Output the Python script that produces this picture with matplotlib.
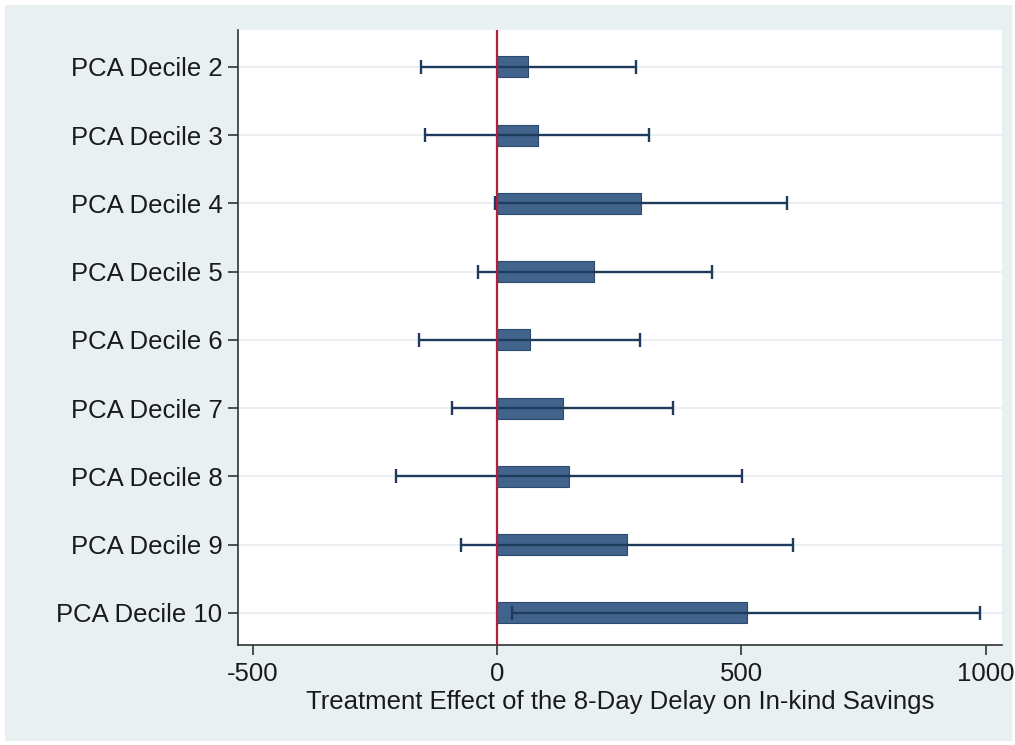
import matplotlib
matplotlib.use("Agg")
import matplotlib.pyplot as plt
from matplotlib.patches import Rectangle

categories = ["PCA Decile 2", "PCA Decile 3", "PCA Decile 4", "PCA Decile 5",
              "PCA Decile 6", "PCA Decile 7", "PCA Decile 8", "PCA Decile 9",
              "PCA Decile 10"]
effects = [64, 84, 294, 199, 67, 134, 147, 265, 511]
ci_low = [-155, -147, -4, -40, -160, -93, -207, -73, 31]
ci_high = [284, 311, 594, 439, 292, 359, 502, 605, 988]
x_ticks = [-500, 0, 500, 1000]
x_label = "Treatment Effect of the 8-Day Delay on In-kind Savings"

plt.rcParams['font.family'] = ['Liberation Sans', 'DejaVu Sans']

fig = plt.figure(figsize=(10.15, 7.45), dpi=100, facecolor='white')
bg = Rectangle((5 / 1015, 4 / 745), 1007 / 1015, 736 / 745,
               transform=fig.transFigure, facecolor='#e8f0f2',
               edgecolor='none', zorder=-10)
fig.patches.append(bg)

ax = fig.add_axes([238 / 1015, 1 - 645 / 745, (1002 - 238) / 1015, (645 - 30) / 745])
ax.set_facecolor('white')

ypos = list(range(len(categories)))
for y in ypos:
    ax.axhline(y, color='#e6edf0', lw=1.2, zorder=0)

ax.barh(ypos, effects, height=0.31, color='#42648c', edgecolor='#2c4a6e',
        linewidth=0.8, zorder=2)

xerr_lo = [e - l for e, l in zip(effects, ci_low)]
xerr_hi = [h - e for e, h in zip(effects, ci_high)]
ax.errorbar(effects, ypos, xerr=[xerr_lo, xerr_hi], fmt='none',
            ecolor='#1e3a5c', elinewidth=1.7, capsize=4.7, capthick=1.7,
            zorder=3)

ax.axvline(0, color='#b3203f', lw=1.6, zorder=4)

ax.set_xlim(-530, 1033)
ax.set_ylim(8.47, -0.54)
ax.set_yticks(ypos)
ax.set_yticklabels(categories, fontsize=18.5, color='#1a1a1a')
ax.set_xticks(x_ticks)
ax.set_xticklabels([str(t) for t in x_ticks], fontsize=18.5, color='#1a1a1a')
ax.set_xlabel(x_label, fontsize=18.5, color='#1a1a1a', labelpad=3)

for s in ['top', 'right']:
    ax.spines[s].set_visible(False)
for s in ['left', 'bottom']:
    ax.spines[s].set_color('#333333')
    ax.spines[s].set_linewidth(1.2)
ax.tick_params(axis='both', direction='out', length=7.2, width=1.2,
               color='#333333')
ax.tick_params(axis='x', pad=5)
ax.tick_params(axis='y', pad=4)

fig.savefig("out.png", dpi=100, facecolor='white')
